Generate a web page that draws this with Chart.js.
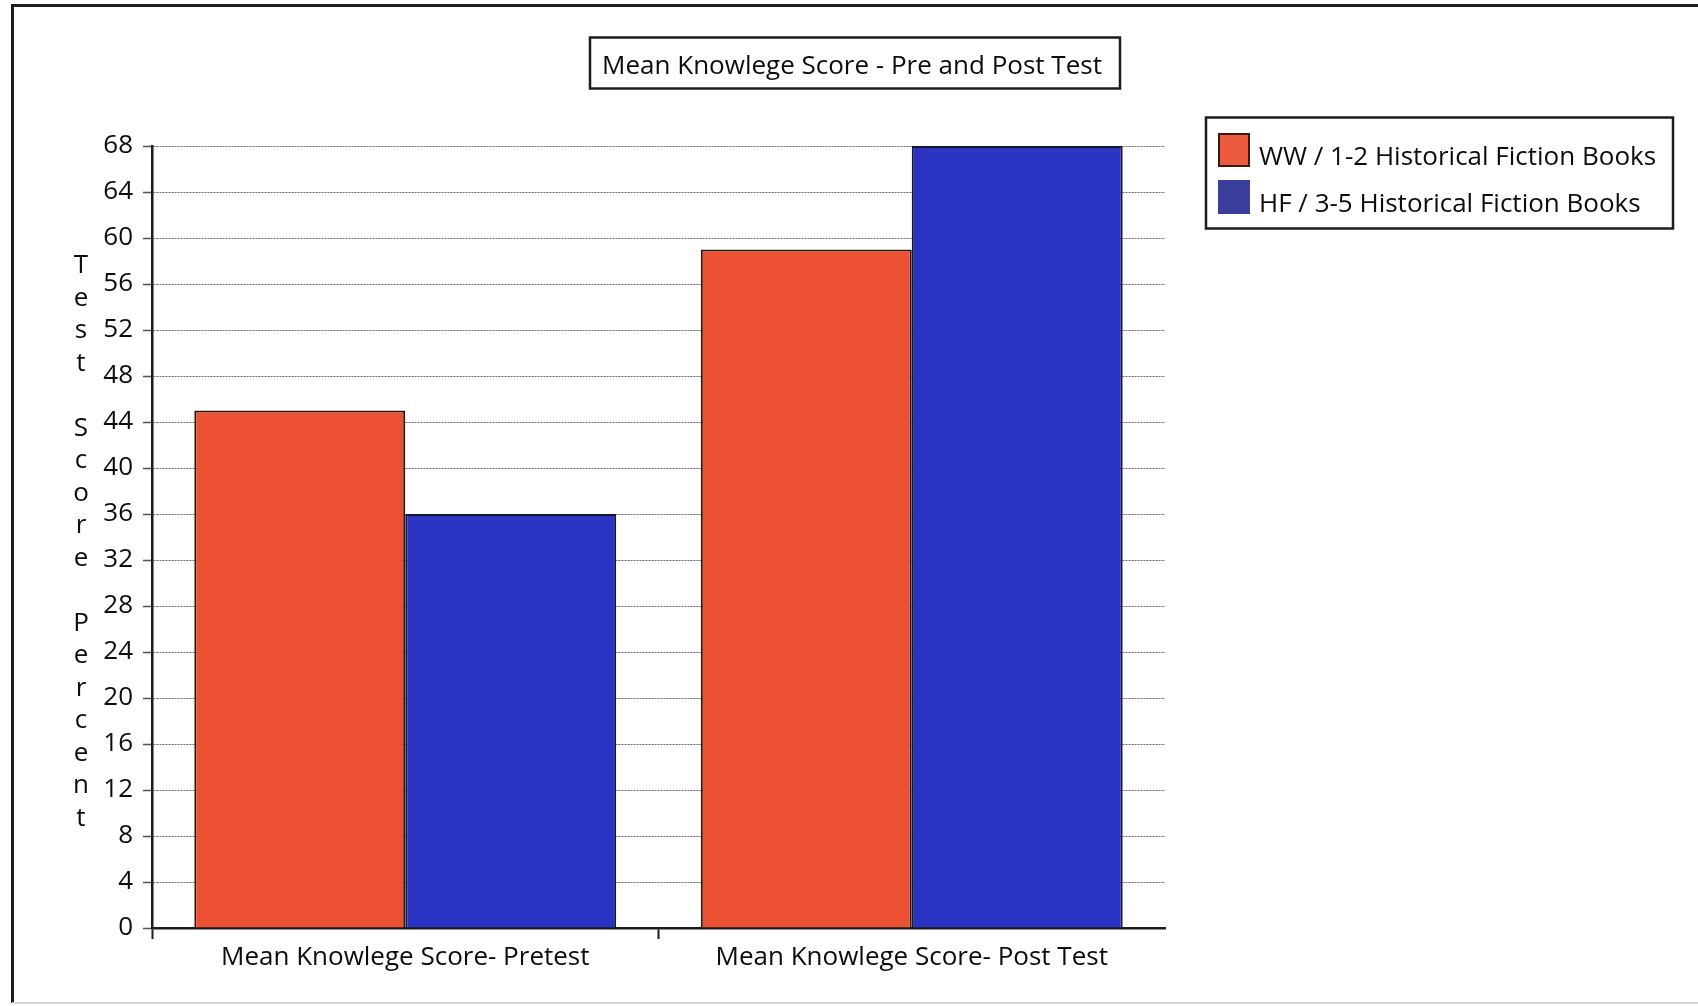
<!DOCTYPE html>
<html>
<head>
<meta charset="utf-8">
<script src="https://cdn.jsdelivr.net/npm/chart.js@4/dist/chart.umd.min.js"></script>
<style>
  html, body { margin: 0; padding: 0; background: #ffffff; }
  #wrap { width: 1698px; height: 1006px; position: relative; }
  canvas { display: block; }
</style>
</head>
<body>
<div id="wrap"><canvas id="c" width="1698" height="1006"></canvas></div>
<script>
// Chart content
const CHART_TITLE = 'Mean Knowlege Score - Pre and Post Test';
const AXIS_TITLE = 'Test Score Percent';
const CATEGORIES = ['Mean Knowlege Score- Pretest', 'Mean Knowlege Score- Post Test'];
const SERIES_LABELS = ['WW / 1-2 Historical Fiction Books', 'HF / 3-5 Historical Fiction Books'];
const WW_VALUES = [45, 59];
const HF_VALUES = [36, 68];
const Y_MIN = 0;
const Y_MAX = 68;
const Y_STEP = 4;

// Styling
const FONT = "'Open Sans', 'DejaVu Sans', sans-serif";
const FONT_SIZE = 26;
const RED = '#ec5134';
const BLUE = '#2b33c2';
const LEGEND_SWATCHES = ['#ec5a40', '#3b3f9c'];
const INK = '#0c0c0c';

Chart.defaults.font.family = FONT;
Chart.defaults.font.size = FONT_SIZE;
Chart.defaults.color = INK;

// Outer frame and white background
const framePlugin = {
  id: 'frame',
  beforeDraw(chart) {
    const ctx = chart.ctx;
    ctx.save();
    ctx.fillStyle = '#ffffff';
    ctx.fillRect(0, 0, chart.width, chart.height);
    ctx.strokeStyle = '#1c1c1c';
    ctx.lineWidth = 3;
    ctx.beginPath();
    ctx.moveTo(12.5, 1003);
    ctx.lineTo(12.5, 5.5);
    ctx.lineTo(chart.width, 5.5);
    ctx.stroke();
    ctx.strokeStyle = '#d4d4d4';
    ctx.lineWidth = 2;
    ctx.beginPath();
    ctx.moveTo(12, 1003);
    ctx.lineTo(chart.width, 1003);
    ctx.stroke();
    ctx.restore();
  }
};

// Boxed title, stacked axis title and boxed legend
const decorPlugin = {
  id: 'decor',
  afterDraw(chart) {
    const ctx = chart.ctx;
    const area = chart.chartArea;
    ctx.save();

    // title box
    ctx.strokeStyle = '#1c1c1c';
    ctx.lineWidth = 2.5;
    ctx.strokeRect(590, 37.5, 530, 51);
    ctx.fillStyle = INK;
    ctx.font = FONT_SIZE + 'px ' + FONT;
    ctx.textAlign = 'center';
    ctx.textBaseline = 'middle';
    ctx.fillText(CHART_TITLE, 852, 67);

    // vertical axis title, one character per line
    const chars = AXIS_TITLE.split('');
    const step = 32.5;
    const midY = (area.top + area.bottom) / 2 + 5;
    const startY = midY - (chars.length - 1) * step / 2;
    chars.forEach((ch, i) => {
      if (ch !== ' ') ctx.fillText(ch, 81, startY + i * step);
    });

    // legend box
    ctx.strokeStyle = '#1c1c1c';
    ctx.lineWidth = 2.5;
    ctx.strokeRect(1206, 117.5, 467, 111);
    const rows = [150, 197];
    chart.data.datasets.forEach((ds, i) => {
      const y = rows[i];
      ctx.fillStyle = LEGEND_SWATCHES[i];
      ctx.fillRect(1218, y - 17, 32, 34);
      if (i === 0) {
        ctx.strokeStyle = '#3a1a14';
        ctx.lineWidth = 2;
        ctx.strokeRect(1219, y - 16, 30, 32);
      }
      ctx.fillStyle = INK;
      ctx.textAlign = 'left';
      ctx.fillText(ds.label, 1259, y + 8);
    });
    ctx.restore();
  }
};

new Chart(document.getElementById('c'), {
  type: 'bar',
  data: {
    labels: CATEGORIES,
    datasets: [
      { label: SERIES_LABELS[0], data: WW_VALUES, backgroundColor: RED, borderColor: '#2a1410', borderWidth: 2 },
      { label: SERIES_LABELS[1], data: HF_VALUES, backgroundColor: BLUE, borderColor: '#14163a', borderWidth: 2 }
    ]
  },
  options: {
    responsive: false,
    animation: false,
    devicePixelRatio: 1,
    layout: { padding: { left: 0, top: 146, right: 533, bottom: 0 } },
    datasets: { bar: { categoryPercentage: 0.833, barPercentage: 1.0 } },
    plugins: {
      legend: { display: false },
      title: { display: false },
      tooltip: { enabled: false }
    },
    scales: {
      x: {
        offset: true,
        afterFit(scale) { scale.height = 78; },
        border: { display: true, color: '#1c1c1c', width: 2.5 },
        grid: {
          offset: true,
          drawOnChartArea: false,
          drawTicks: true,
          tickLength: 11,
          tickWidth: 2,
          tickColor: (ctx) => (ctx.type === 'tick' ? '#1c1c1c' : 'rgba(0,0,0,0)')
        },
        ticks: { padding: 3, color: INK, font: { size: FONT_SIZE }, maxRotation: 0, autoSkip: false }
      },
      y: {
        min: Y_MIN,
        max: Y_MAX,
        afterFit(scale) { scale.width = 152; },
        border: { display: true, color: '#1c1c1c', width: 2.5, dash: [2, 1] },
        grid: {
          color: '#6a6a6a',
          lineWidth: 1,
          drawTicks: true,
          tickLength: 9,
          tickColor: '#555555',
          tickWidth: 1.5,
          tickBorderDash: []
        },
        ticks: { stepSize: Y_STEP, padding: 10, color: INK, font: { size: FONT_SIZE } }
      }
    }
  },
  plugins: [framePlugin, decorPlugin]
});
</script>
</body>
</html>
